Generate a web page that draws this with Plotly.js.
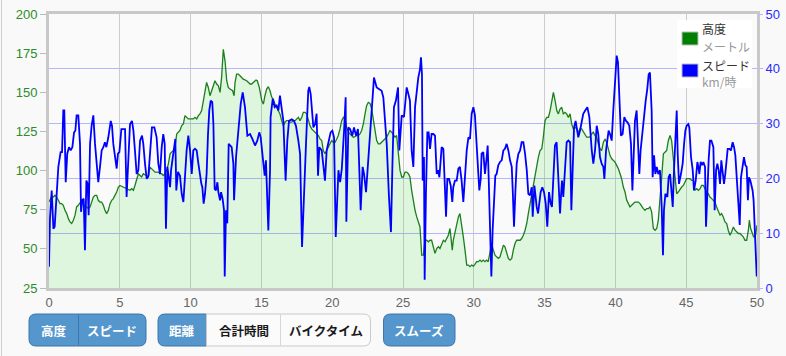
<!DOCTYPE html>
<html>
<head>
<meta charset="utf-8">
<script src="https://cdn.plot.ly/plotly-3.0.1.min.js"></script>
<style>
html,body{margin:0;padding:0;background:#f9f9f9;}
#chart{width:786px;height:356px;}
</style>
</head>
<body>
<div id="chart"></div>
<script>
// ---- data (distance km) ----
const altDist = [0.00,0.19,0.31,0.42,0.54,0.66,0.78,0.89,1.01,1.13,1.25,1.37,1.48,1.60,1.72,1.84,1.95,2.07,2.19,2.31,2.42,2.54,2.66,2.78,2.90,3.01,3.13,3.25,3.37,3.48,3.60,3.72,3.84,3.95,4.07,4.19,4.31,4.43,4.54,4.78,4.90,5.01,5.25,5.48,5.72,5.84,5.96,6.07,6.19,6.31,6.43,6.54,6.66,6.90,7.02,7.13,7.37,7.49,7.72,7.84,7.96,8.07,8.19,8.31,8.43,8.55,8.66,8.78,8.90,9.02,9.13,9.25,9.37,9.49,9.60,9.72,9.84,9.96,10.08,10.19,10.31,10.43,10.55,10.66,10.78,10.90,11.02,11.13,11.25,11.37,11.49,11.61,11.72,11.84,11.96,12.08,12.19,12.31,12.43,12.55,12.66,12.78,
12.97,13.07,13.14,13.25,13.37,13.49,13.61,13.72,13.96,14.20,14.31,14.43,14.62,14.71,14.85,15.03,15.14,15.25,15.37,15.49,15.61,15.73,15.84,15.96,16.08,16.20,16.31,16.43,16.55,16.67,16.78,16.90,17.02,17.14,17.26,17.38,17.49,17.61,17.73,17.85,17.96,18.08,18.20,18.32,18.43,18.55,18.67,18.79,18.90,19.02,19.14,19.26,19.37,19.49,19.61,19.73,19.84,19.96,20.08,20.20,20.32,20.43,20.55,20.67,20.79,20.90,21.02,21.14,21.26,21.37,21.49,21.61,21.73,21.85,21.96,22.08,22.20,22.32,22.43,22.55,22.67,22.79,22.91,23.03,23.14,23.26,23.38,23.49,23.61,23.73,23.85,23.96,24.08,24.20,24.32,24.43,24.55,24.67,24.79,24.91,25.03,25.14,25.26,25.38,
25.49,25.61,25.73,25.85,25.97,26.08,26.20,26.32,26.44,26.55,26.67,26.79,26.91,27.02,27.14,27.26,27.38,27.50,27.61,27.73,27.85,27.97,28.08,28.20,28.32,28.39,28.48,28.55,28.67,28.79,28.91,29.02,29.14,29.26,29.38,29.50,29.62,29.73,29.85,29.97,30.08,30.20,30.32,30.44,30.55,30.67,30.79,30.91,31.02,31.14,31.26,31.38,31.50,31.61,31.73,31.85,31.97,32.09,32.20,32.32,32.44,32.56,32.68,32.79,32.91,33.03,33.15,33.27,33.38,33.50,33.62,33.74,33.85,33.97,34.09,34.21,34.33,34.44,34.56,34.68,34.80,34.91,35.03,35.15,35.27,35.39,35.50,35.62,35.74,35.86,35.97,36.09,36.21,36.32,36.44,36.56,36.68,36.80,36.91,37.03,37.15,37.26,37.38,37.50,37.62,37.74,37.86,37.97,38.09,38.20,
38.32,38.44,38.56,38.68,38.79,38.91,39.03,39.15,39.27,39.38,39.50,39.62,39.74,39.86,39.97,40.09,40.21,40.33,40.44,40.56,40.68,40.80,40.91,41.03,41.15,41.27,41.38,41.50,41.62,41.74,41.86,41.97,42.09,42.21,42.33,42.44,42.56,42.68,42.80,42.92,43.03,43.15,43.27,43.39,43.50,43.62,43.74,43.86,43.97,44.09,44.21,44.33,44.44,44.56,44.68,44.80,44.92,45.03,45.15,45.27,45.39,45.51,45.62,45.74,45.86,45.98,46.09,46.21,46.33,46.44,46.56,46.68,46.80,46.92,47.03,47.15,47.27,47.39,47.50,47.62,47.74,47.86,47.97,48.09,48.21,48.33,48.45,48.56,48.68,48.80,48.92,49.03,49.15,49.27,49.39,49.46,49.55,49.65,49.76,49.88,50.00];
const altMeters = [80,83.5,83.1,84.2,83.1,81.0,78.9,78.9,77.8,74.6,72.5,69.3,67.2,66.2,68.3,71.5,76.8,77.8,79.9,81.0,78.9,76.8,76.8,75.7,76.8,79.9,83.1,84.2,84.2,81.0,79.9,79.9,77.8,74.6,72.5,74.6,78.9,81.0,82.1,86.3,89.5,90.5,89.5,88.4,87.4,88.4,87.4,90.5,94.8,98.0,96.9,95.9,98.0,96.9,95.9,102.2,100.1,99.0,99.0,98.0,98.0,96.9,98.0,100.1,104.3,110.7,111.8,112.8,114.9,123.4,124.5,125.6,128.7,129.8,135.1,134.0,133.0,133.0,133.0,133.0,134.0,133.0,135.1,136.2,138.3,144.6,149.9,156.3,153.1,147.8,151.0,155.3,157.4,155.3,154.2,149.9,159.5,177.5,170.1,157.4,153.1,152.1,
151.0,147.8,156.3,161.6,161.6,160.6,159.5,158.4,157.4,155.3,155.3,156.3,157.8,157.4,153.1,144.6,142.5,147.8,152.1,153.6,151.0,146.8,145.7,142.5,140.4,138.3,136.2,131.9,128.7,130.9,131.9,131.9,130.9,130.9,131.9,131.9,133.0,134.0,131.9,134.0,137.2,137.2,136.2,131.9,128.7,126.6,125.6,124.5,123.4,122.4,120.2,119.2,112.8,110.7,112.8,114.9,117.1,119.2,118.1,118.1,120.2,122.4,126.6,131.9,134.0,133.0,127.7,124.5,123.4,122.4,121.3,121.7,122.4,122.4,123.4,125.6,129.8,136.2,141.5,143.6,142.9,139.3,131.9,124.5,119.2,117.1,117.1,118.1,119.2,120.2,121.3,123.4,125.6,124.5,122.4,121.3,122.4,110.7,100.1,95.9,95.9,99.0,99.0,98.0,
95.9,87.4,79.9,74.6,70.4,67.2,64.0,46.0,46.0,55.5,55.5,54.5,55.5,55.5,50.2,47.1,50.2,51.3,50.2,53.4,55.5,54.5,56.6,58.7,63.0,56.6,49.2,55.5,60.9,66.2,70.4,72.5,66.2,57.7,49.2,39.6,39.6,38.6,39.6,39.0,40.1,41.8,41.8,42.8,41.8,42.8,41.8,42.8,41.8,49.2,53.4,49.2,46.0,44.9,43.9,44.9,48.1,52.4,51.3,47.1,43.9,42.8,43.9,49.2,53.4,55.5,55.5,55.5,56.6,58.7,61.9,66.2,72.5,78.9,85.2,90.5,95.9,102.2,108.6,112.8,113.9,121.3,131.9,134.0,134.0,138.3,144.6,149.9,144.6,138.3,136.2,139.3,140.4,136.2,137.2,136.2,134.0,136.2,129.8,126.6,127.7,126.6,124.5,126.6,126.6,124.5,122.4,121.3,121.3,121.3,
123.4,124.5,122.4,121.3,117.1,113.9,112.8,118.1,120.2,118.1,113.9,109.6,107.5,106.5,105.4,103.3,101.2,98.0,94.8,89.5,86.3,81.0,78.9,76.8,77.8,78.9,79.9,79.9,79.9,78.9,76.8,75.7,74.6,75.7,75.7,76.8,73.6,63.0,61.9,63.0,68.3,79.9,95.9,110.7,111.8,112.8,119.2,122.4,119.2,108.6,99.0,85.2,86.3,88.4,89.5,90.5,92.7,94.8,94.8,94.8,93.7,93.7,87.4,88.4,87.4,88.4,90.5,90.5,88.4,86.3,85.2,83.1,82.1,81.0,79.9,76.8,73.6,71.5,72.5,70.4,67.2,66.2,61.9,58.7,60.9,64.0,61.9,60.9,59.8,59.8,58.7,57.7,55.5,55.5,61.9,68.3,63.0,59.8,57.7,57.7,65.1];

const speedDist = [0.00,0.07,0.19,0.31,0.40,0.54,0.66,0.82,0.92,1.01,1.08,1.18,1.29,1.41,1.53,1.65,1.77,1.86,1.95,2.07,2.19,2.26,2.35,2.45,2.54,2.64,2.73,2.80,2.90,3.01,3.13,3.25,3.37,3.48,3.60,3.72,3.84,3.95,4.05,4.19,4.36,4.45,4.54,4.66,4.78,4.87,4.97,5.11,5.20,5.37,5.48,5.60,5.72,5.86,5.96,6.07,6.19,6.31,6.43,6.57,6.66,6.78,6.90,7.02,7.13,7.27,7.44,7.60,7.72,7.84,7.96,8.07,8.17,8.26,8.36,8.45,8.55,8.62,8.73,8.83,8.92,8.99,9.11,9.25,9.37,9.49,9.60,9.72,9.84,9.96,10.08,10.19,10.31,10.43,10.55,10.66,10.76,10.83,10.92,11.02,11.13,11.23,11.32,11.42,11.53,11.61,11.70,11.79,11.89,11.96,12.08,12.15,12.26,12.36,12.41,12.50,12.59,12.69,
12.90,13.02,13.07,13.21,13.30,13.54,13.68,13.84,14.01,14.20,14.36,14.55,14.71,14.85,14.95,15.14,15.23,15.32,15.49,15.61,15.65,15.80,15.94,16.08,16.20,16.31,16.43,16.55,16.71,16.83,16.95,17.14,17.30,17.44,17.61,17.73,17.87,18.01,18.15,18.31,18.38,18.48,18.67,18.79,18.90,19.00,19.09,19.26,19.49,19.61,19.73,19.89,20.01,20.13,20.25,20.44,20.56,20.68,20.85,20.95,21.00,21.14,21.26,21.42,21.54,21.68,21.82,21.92,22.01,22.15,22.25,22.39,22.55,22.79,22.95,23.14,23.33,23.49,23.61,23.85,24.01,24.15,24.25,24.36,24.50,24.65,24.74,24.91,25.07,25.26,25.38,
25.49,25.61,25.73,25.85,25.97,26.08,26.20,26.27,26.34,26.39,26.48,26.53,26.62,26.72,26.81,26.91,27.02,27.14,27.26,27.38,27.48,27.57,27.73,27.85,27.94,28.04,28.13,28.25,28.37,28.48,28.55,28.67,28.79,28.91,29.02,29.14,29.26,29.38,29.50,29.62,29.73,29.85,29.97,30.08,30.20,30.32,30.39,30.49,30.55,30.67,30.79,30.91,30.98,31.05,31.15,31.24,31.33,31.43,31.52,31.61,31.73,31.85,31.97,32.09,32.20,32.32,32.44,32.56,32.68,32.75,32.84,32.94,33.03,33.15,33.27,33.38,33.50,33.62,33.74,33.85,33.97,34.09,34.16,34.28,34.37,34.44,34.54,34.63,34.72,34.84,34.96,35.08,35.19,35.31,35.43,35.52,35.62,35.73,35.85,35.92,35.99,36.09,36.16,36.23,36.32,36.44,36.56,36.68,36.80,36.89,36.98,37.08,37.19,37.26,37.38,37.50,37.62,37.73,37.87,38.02,38.16,
38.21,38.33,38.44,38.56,38.68,38.79,38.91,39.03,39.15,39.22,39.34,39.43,39.52,39.62,39.74,39.85,39.97,40.09,40.18,40.28,40.39,40.51,40.63,40.75,40.87,40.98,41.10,41.20,41.27,41.38,41.50,41.59,41.69,41.78,41.90,42.02,42.14,42.25,42.35,42.44,42.56,42.63,42.73,42.82,42.92,43.03,43.15,43.27,43.36,43.43,43.53,43.67,43.76,43.86,43.97,44.05,44.14,44.26,44.33,44.40,44.49,44.63,44.75,44.85,44.94,45.03,45.15,45.22,45.34,45.46,45.55,45.67,45.79,45.86,45.93,46.02,46.12,46.21,46.33,46.40,46.47,46.59,46.68,46.78,46.92,47.01,47.11,47.20,47.29,47.39,47.48,47.58,47.67,47.76,47.86,47.93,48.05,48.16,48.28,48.38,48.47,48.56,48.68,48.78,48.87,48.97,49.08,49.18,49.27,49.36,49.43,49.53,49.62,49.69,49.76,49.86,49.98];
const speedKmh = [3.9,12.7,17.8,10.8,11.2,16.6,22.1,24.8,24.8,32.4,32.4,19.3,24.5,25.7,25.1,25.7,28.4,28.7,31.5,31.5,26.3,13.9,16.0,16.3,6.9,19.6,19.0,13.3,26.3,29.6,31.5,26.3,22.1,19.3,22.1,25.1,25.7,26.6,25.7,27.5,30.5,29.6,26.3,23.9,21.8,24.5,24.8,29.0,29.0,29.0,16.6,22.1,29.9,30.5,28.7,25.1,20.8,21.5,26.9,27.8,26.3,22.7,19.9,20.5,25.1,29.3,29.3,27.5,22.7,20.8,25.7,28.1,26.3,10.8,22.1,20.2,18.4,21.5,23.9,25.7,27.2,17.8,21.2,20.5,17.2,15.7,20.2,25.1,27.8,25.1,20.8,25.1,25.4,25.1,22.7,20.2,19.0,18.4,15.4,17.2,20.8,28.1,32.4,34.2,33.9,29.9,18.1,17.8,19.3,17.5,16.0,17.5,16.3,14.2,2.1,14.2,11.8,26.3,
25.7,22.7,16.0,23.9,26.3,33.6,35.7,33.0,27.8,28.1,27.2,26.0,26.9,28.4,27.5,23.3,20.5,23.3,10.5,21.5,31.2,34.5,33.0,33.3,32.4,35.1,33.0,30.5,19.6,26.9,30.5,30.8,30.5,29.6,26.9,24.5,7.5,19.0,26.3,36.0,36.7,35.4,29.3,29.9,31.8,20.5,25.7,25.1,19.6,25.1,26.3,28.4,28.7,27.5,9.3,21.5,19.3,21.8,29.3,34.8,12.1,29.3,29.0,27.8,29.3,27.8,29.0,19.6,14.2,22.1,20.8,17.5,23.0,32.4,38.4,36.6,36.3,36.0,34.8,26.3,16.6,10.2,22.1,33.0,34.2,36.6,25.1,31.5,31.2,36.6,35.4,
34.2,25.1,22.1,33.0,35.7,38.4,39.9,42.1,39.0,19.6,23.9,1.5,17.2,28.4,28.4,25.4,28.1,28.1,27.8,20.8,21.5,20.2,25.7,25.4,19.6,13.0,19.9,19.9,18.7,15.7,18.4,19.6,19.6,21.8,22.1,19.6,15.7,20.2,25.1,27.5,27.2,31.8,33.0,31.5,25.1,19.6,17.8,19.9,24.5,24.8,20.8,23.9,26.0,20.2,8.1,2.1,10.5,16.6,20.5,20.8,22.4,23.0,23.3,25.1,25.4,26.3,25.1,23.3,22.1,17.8,11.2,17.8,22.7,24.5,25.1,26.6,26.6,24.5,21.5,17.2,16.9,18.4,13.0,18.7,16.0,14.8,13.6,15.4,17.5,18.4,17.5,15.4,11.2,17.5,15.4,14.8,20.2,26.0,26.6,23.3,17.8,13.6,16.9,19.6,16.6,20.8,26.6,26.9,26.6,14.2,23.9,29.3,30.5,29.6,27.5,28.7,30.5,31.8,32.4,33.0,31.2,
28.7,25.1,22.7,25.1,29.6,28.1,23.9,22.7,22.1,19.9,25.1,27.5,28.7,28.1,26.9,32.4,37.8,42.4,41.2,34.2,27.8,28.1,31.2,30.5,30.2,29.6,26.3,17.8,22.1,30.5,32.4,27.5,20.8,25.1,28.1,32.4,34.2,36.3,39.0,39.3,32.4,20.2,24.2,20.8,22.1,20.8,21.5,14.8,6.0,14.2,17.2,16.6,20.2,20.8,17.2,14.8,21.5,29.3,32.4,24.5,19.0,20.8,22.7,26.3,28.7,29.6,29.9,29.3,23.9,21.5,17.8,19.6,23.0,22.1,20.8,23.0,22.4,23.0,22.1,11.2,17.5,23.6,26.9,26.9,25.7,14.2,21.5,22.7,21.5,19.0,23.3,21.5,19.0,20.8,23.3,25.4,25.4,25.1,26.6,25.7,24.2,20.8,16.6,11.5,20.2,22.1,23.9,22.4,22.1,16.0,20.2,19.6,18.4,17.8,16.0,8.1,2.1];

const altTicks = [25,50,75,100,125,150,175,200];
const speedTicks = [0,10,20,30,40,50];
const distTicks = [0,5,10,15,20,25,30,35,40,45,50];
const legendNames = ['高度','スピード'];
const legendUnits = ['メートル','km/時'];
const buttonGroups = [['高度','スピード'],['距離','合計時間','バイクタイム'],['スムーズ']];

// ---- geometry helpers (plot area in pixels) ----
const L = 49, T = 14, W = 708, H = 274;
const X = p => (p - L) / W;
const Y = p => (T + H - p) / H;
function rrect(x0, y0, x1, y1, rl, rr) {
  const pts = [];
  pts.push('M' + X(x0 + rl) + ',' + Y(y0));
  pts.push('L' + X(x1 - rr) + ',' + Y(y0));
  if (rr) pts.push('Q' + X(x1) + ',' + Y(y0) + ' ' + X(x1) + ',' + Y(y0 + rr));
  pts.push('L' + X(x1) + ',' + Y(y1 - rr));
  if (rr) pts.push('Q' + X(x1) + ',' + Y(y1) + ' ' + X(x1 - rr) + ',' + Y(y1));
  pts.push('L' + X(x0 + rl) + ',' + Y(y1));
  if (rl) pts.push('Q' + X(x0) + ',' + Y(y1) + ' ' + X(x0) + ',' + Y(y1 - rl));
  pts.push('L' + X(x0) + ',' + Y(y0 + rl));
  if (rl) pts.push('Q' + X(x0) + ',' + Y(y0) + ' ' + X(x0 + rl) + ',' + Y(y0));
  pts.push('Z');
  return pts.join(' ');
}
const BLUE = '#5596cd', BLUE_L = '#3a77ad', WHITE = '#fbfbfb', GRAY_L = '#c9c9c9';
function seg(x0, x1, r0, r1, fill, line) {
  return {type:'path', xref:'paper', yref:'paper', layer:'above',
    path: rrect(x0, 314, x1, 346, r0, r1), fillcolor: fill, line:{color: line, width:1}};
}
const shapes = [
  {type:'line', xref:'paper', yref:'paper', x0:X(1.5), x1:X(1.5), y0:Y(0), y1:Y(356), line:{color:'#cfcfcf', width:1}, layer:'above'},
  {type:'rect', xref:'paper', yref:'paper', layer:'above', x0:X(677), x1:X(752), y0:Y(20), y1:Y(88), fillcolor:'#ffffff', line:{width:0}},
  {type:'rect', xref:'paper', yref:'paper', layer:'above', x0:X(682), x1:X(698), y0:Y(32), y1:Y(45), fillcolor:'#008000', line:{color:'#bbbbbb', width:1}},
  {type:'rect', xref:'paper', yref:'paper', layer:'above', x0:X(682), x1:X(698), y0:Y(64), y1:Y(77), fillcolor:'#0000ff', line:{color:'#bbbbbb', width:1}},
  seg(29, 146, 7, 7, BLUE, BLUE_L),
  {type:'line', xref:'paper', yref:'paper', layer:'above', x0:X(78.5), x1:X(78.5), y0:Y(314.5), y1:Y(345.5), line:{color:BLUE_L, width:1}},
  seg(158, 206.5, 7, 0, BLUE, BLUE_L),
  seg(206.5, 370.5, 0, 7, WHITE, GRAY_L),
  {type:'line', xref:'paper', yref:'paper', layer:'above', x0:X(280.5), x1:X(280.5), y0:Y(314.5), y1:Y(345.5), line:{color:'#d6d6d6', width:1}},
  seg(383.5, 455, 7, 7, BLUE, BLUE_L)
];
const jp = '"Noto Sans CJK JP", "Liberation Sans", sans-serif';
function ann(px, py, text, color, size, bold, anchor) {
  return {xref:'paper', yref:'paper', x:X(px), y:Y(py), text: bold ? '<b>' + text + '</b>' : text,
    showarrow:false, xanchor: anchor || 'center', yanchor:'middle', borderpad:0,
    font:{family: jp, size: size, color: color}};
}
const btnCenters = [[54, 112], [182, 243.5, 325.5], [419]];
const btnColors = [['#ffffff','#ffffff'], ['#ffffff','#1a1a1a','#1a1a1a'], ['#ffffff']];
const annotations = [
  ann(701, 28.5, legendNames[0], '#333333', 12, false, 'left'),
  ann(701, 46.5, legendUnits[0], '#999999', 12, false, 'left'),
  ann(701, 65.5, legendNames[1], '#333333', 12, false, 'left'),
  ann(701, 81.5, legendUnits[1], '#999999', 12, false, 'left')
];
buttonGroups.forEach((g, gi) => g.forEach((t, ti) => {
  annotations.push(ann(btnCenters[gi][ti], 330, t, btnColors[gi][ti], 12.5, true));
}));

const traces = [
  {x: altDist, y: altMeters, type:'scatter', mode:'lines', name:'高度', yaxis:'y',
   line:{color:'#1b7f1b', width:1.3}, fill:'tozeroy', fillcolor:'rgba(0,205,0,0.11)', hoverinfo:'skip'},
  {x: speedDist, y: speedKmh, type:'scatter', mode:'lines', name:'スピード', yaxis:'y2',
   line:{color:'#0000ff', width:1.8}, hoverinfo:'skip'}
];
const tickFont = {family:'"Liberation Sans", Arial, sans-serif', size:13};
const layout = {
  width:786, height:356,
  margin:{l:L, r:786 - L - W, t:T, b:356 - T - H},
  paper_bgcolor:'#f9f9f9', plot_bgcolor:'#fafafa',
  showlegend:false,
  xaxis:{range:[0,50], tickvals:distTicks, ticktext:distTicks.map(String), showgrid:true, gridcolor:'#cccccc', gridwidth:1,
    zeroline:false, showline:true, linecolor:'#c8c8c8', linewidth:3, mirror:true, ticks:'',
    tickfont:Object.assign({color:'#666666'}, tickFont), fixedrange:true},
  yaxis:{range:[25,200], tickvals:altTicks, ticktext:altTicks.map(String), showgrid:false, zeroline:false,
    showline:true, linecolor:'#c8c8c8', linewidth:3, mirror:true, ticks:'outside', ticklen:6, tickcolor:'#bbbbbb',
    tickfont:Object.assign({color:'#2c8c2c'}, tickFont), fixedrange:true},
  yaxis2:{range:[0,50], tickvals:speedTicks, ticktext:speedTicks.map(String), overlaying:'y', side:'right', showgrid:true,
    gridcolor:'#b6b6fb', gridwidth:1, zeroline:false, showline:false, ticks:'outside', ticklen:5, tickcolor:'#b6b6fb',
    tickfont:Object.assign({color:'#2a2aff'}, tickFont), fixedrange:true},
  shapes: shapes,
  annotations: annotations
};
Plotly.newPlot('chart', traces, layout, {displayModeBar:false, staticPlot:true});
</script>
</body>
</html>
